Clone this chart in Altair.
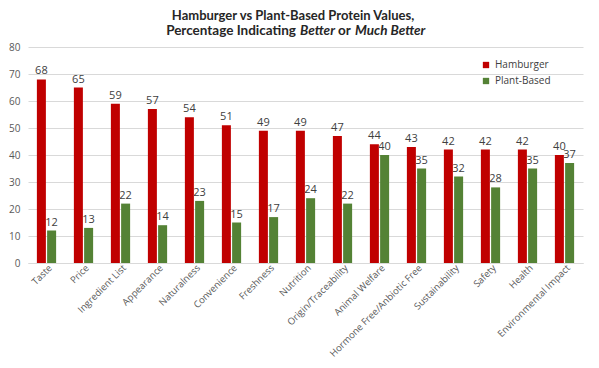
import altair as alt
import pandas as pd

categories = ["Taste", "Price", "Ingredient List", "Appearance", "Naturalness",
              "Convenience", "Freshness", "Nutrition", "Origin/Traceability",
              "Animal Welfare", "Hormone Free/Anbiotic Free", "Sustainability",
              "Safety", "Health", "Environmental Impact"]
hamburger = [68, 65, 59, 57, 54, 51, 49, 49, 47, 44, 43, 42, 42, 42, 40]
plant_based = [12, 13, 22, 14, 23, 15, 17, 24, 22, 40, 35, 32, 28, 35, 37]
series = ["Hamburger", "Plant-Based"]
colors = ["#C00000", "#548235"]
y_ticks = [0, 10, 20, 30, 40, 50, 60, 70, 80]

title_line1 = "Hamburger vs Plant-Based Protein Values,"
title_parts = ["Percentage Indicating", "Better", "or", "Much Better"]
title_styles = ["normal", "italic", "normal", "italic"]

rows = []
for c, h, p in zip(categories, hamburger, plant_based):
    rows.append({"cat": c, "series": series[0], "value": h})
    rows.append({"cat": c, "series": series[1], "value": p})
df = pd.DataFrame(rows)

FONT = "Open Sans"
TFONT = "Lato"
W, H = 555, 216

base = alt.Chart(df).encode(
    x=alt.X("cat:N", sort=categories,
            scale=alt.Scale(paddingInner=0.48, paddingOuter=0.24),
            axis=alt.Axis(title=None, labelAngle=-45, labelAlign="right",
                          labelBaseline="middle", labelPadding=3, labelOffset=4,
                          ticks=False,
                          domainColor="#d9d9d9", labelColor="#595959",
                          labelFont=FONT, labelFontSize=9.5)),
    xOffset=alt.XOffset("series:N", sort=series, scale=alt.Scale(paddingInner=0.12)),
    y=alt.Y("value:Q", scale=alt.Scale(domain=[0, 80]),
            axis=alt.Axis(title=None, values=y_ticks, domain=False, ticks=False,
                          gridColor="#d9d9d9", labelPadding=8, labelColor="#595959",
                          labelFont=FONT, labelFontSize=10)),
)

bars = base.mark_bar().encode(
    color=alt.Color("series:N", scale=alt.Scale(domain=series, range=colors),
                    legend=alt.Legend(title=None, orient="none", legendX=453, legendY=13,
                                      symbolType="square", symbolSize=40,
                                      symbolStrokeWidth=0, labelFont=FONT,
                                      labelFontSize=10, labelColor="#404040",
                                      rowPadding=6, labelOffset=4))
)

labels = base.mark_text(baseline="bottom", dy=-3, font=FONT, fontSize=11,
                        color="#404040").encode(text="value:Q")

t1 = alt.Chart(pd.DataFrame({"t": [title_line1]})).mark_text(
    font=TFONT, fontSize=13, fontWeight="bold", color="#262626", align="center"
).encode(x=alt.value(265), y=alt.value(-31), text="t:N")

part_x = [268, 272, 316.5, 327]
part_align = ["right", "left", "center", "left"]
t2_layers = []
for txt, sty, px, al in zip(title_parts, title_styles, part_x, part_align):
    t2_layers.append(
        alt.Chart(pd.DataFrame({"t": [txt]})).mark_text(
            font=TFONT, fontSize=13.5, fontWeight="bold", fontStyle=sty,
            color="#262626", align=al
        ).encode(x=alt.value(px), y=alt.value(-16), text="t:N")
    )

chart = alt.layer(bars, labels, t1, *t2_layers).properties(
    width=W, height=H,
    autosize=alt.AutoSizeParams(type="none"),
    padding={"left": 20, "top": 39, "right": 8, "bottom": 97},
).configure_view(stroke=None)

chart.save("out.html", embed_options={"renderer": "svg", "actions": False})
